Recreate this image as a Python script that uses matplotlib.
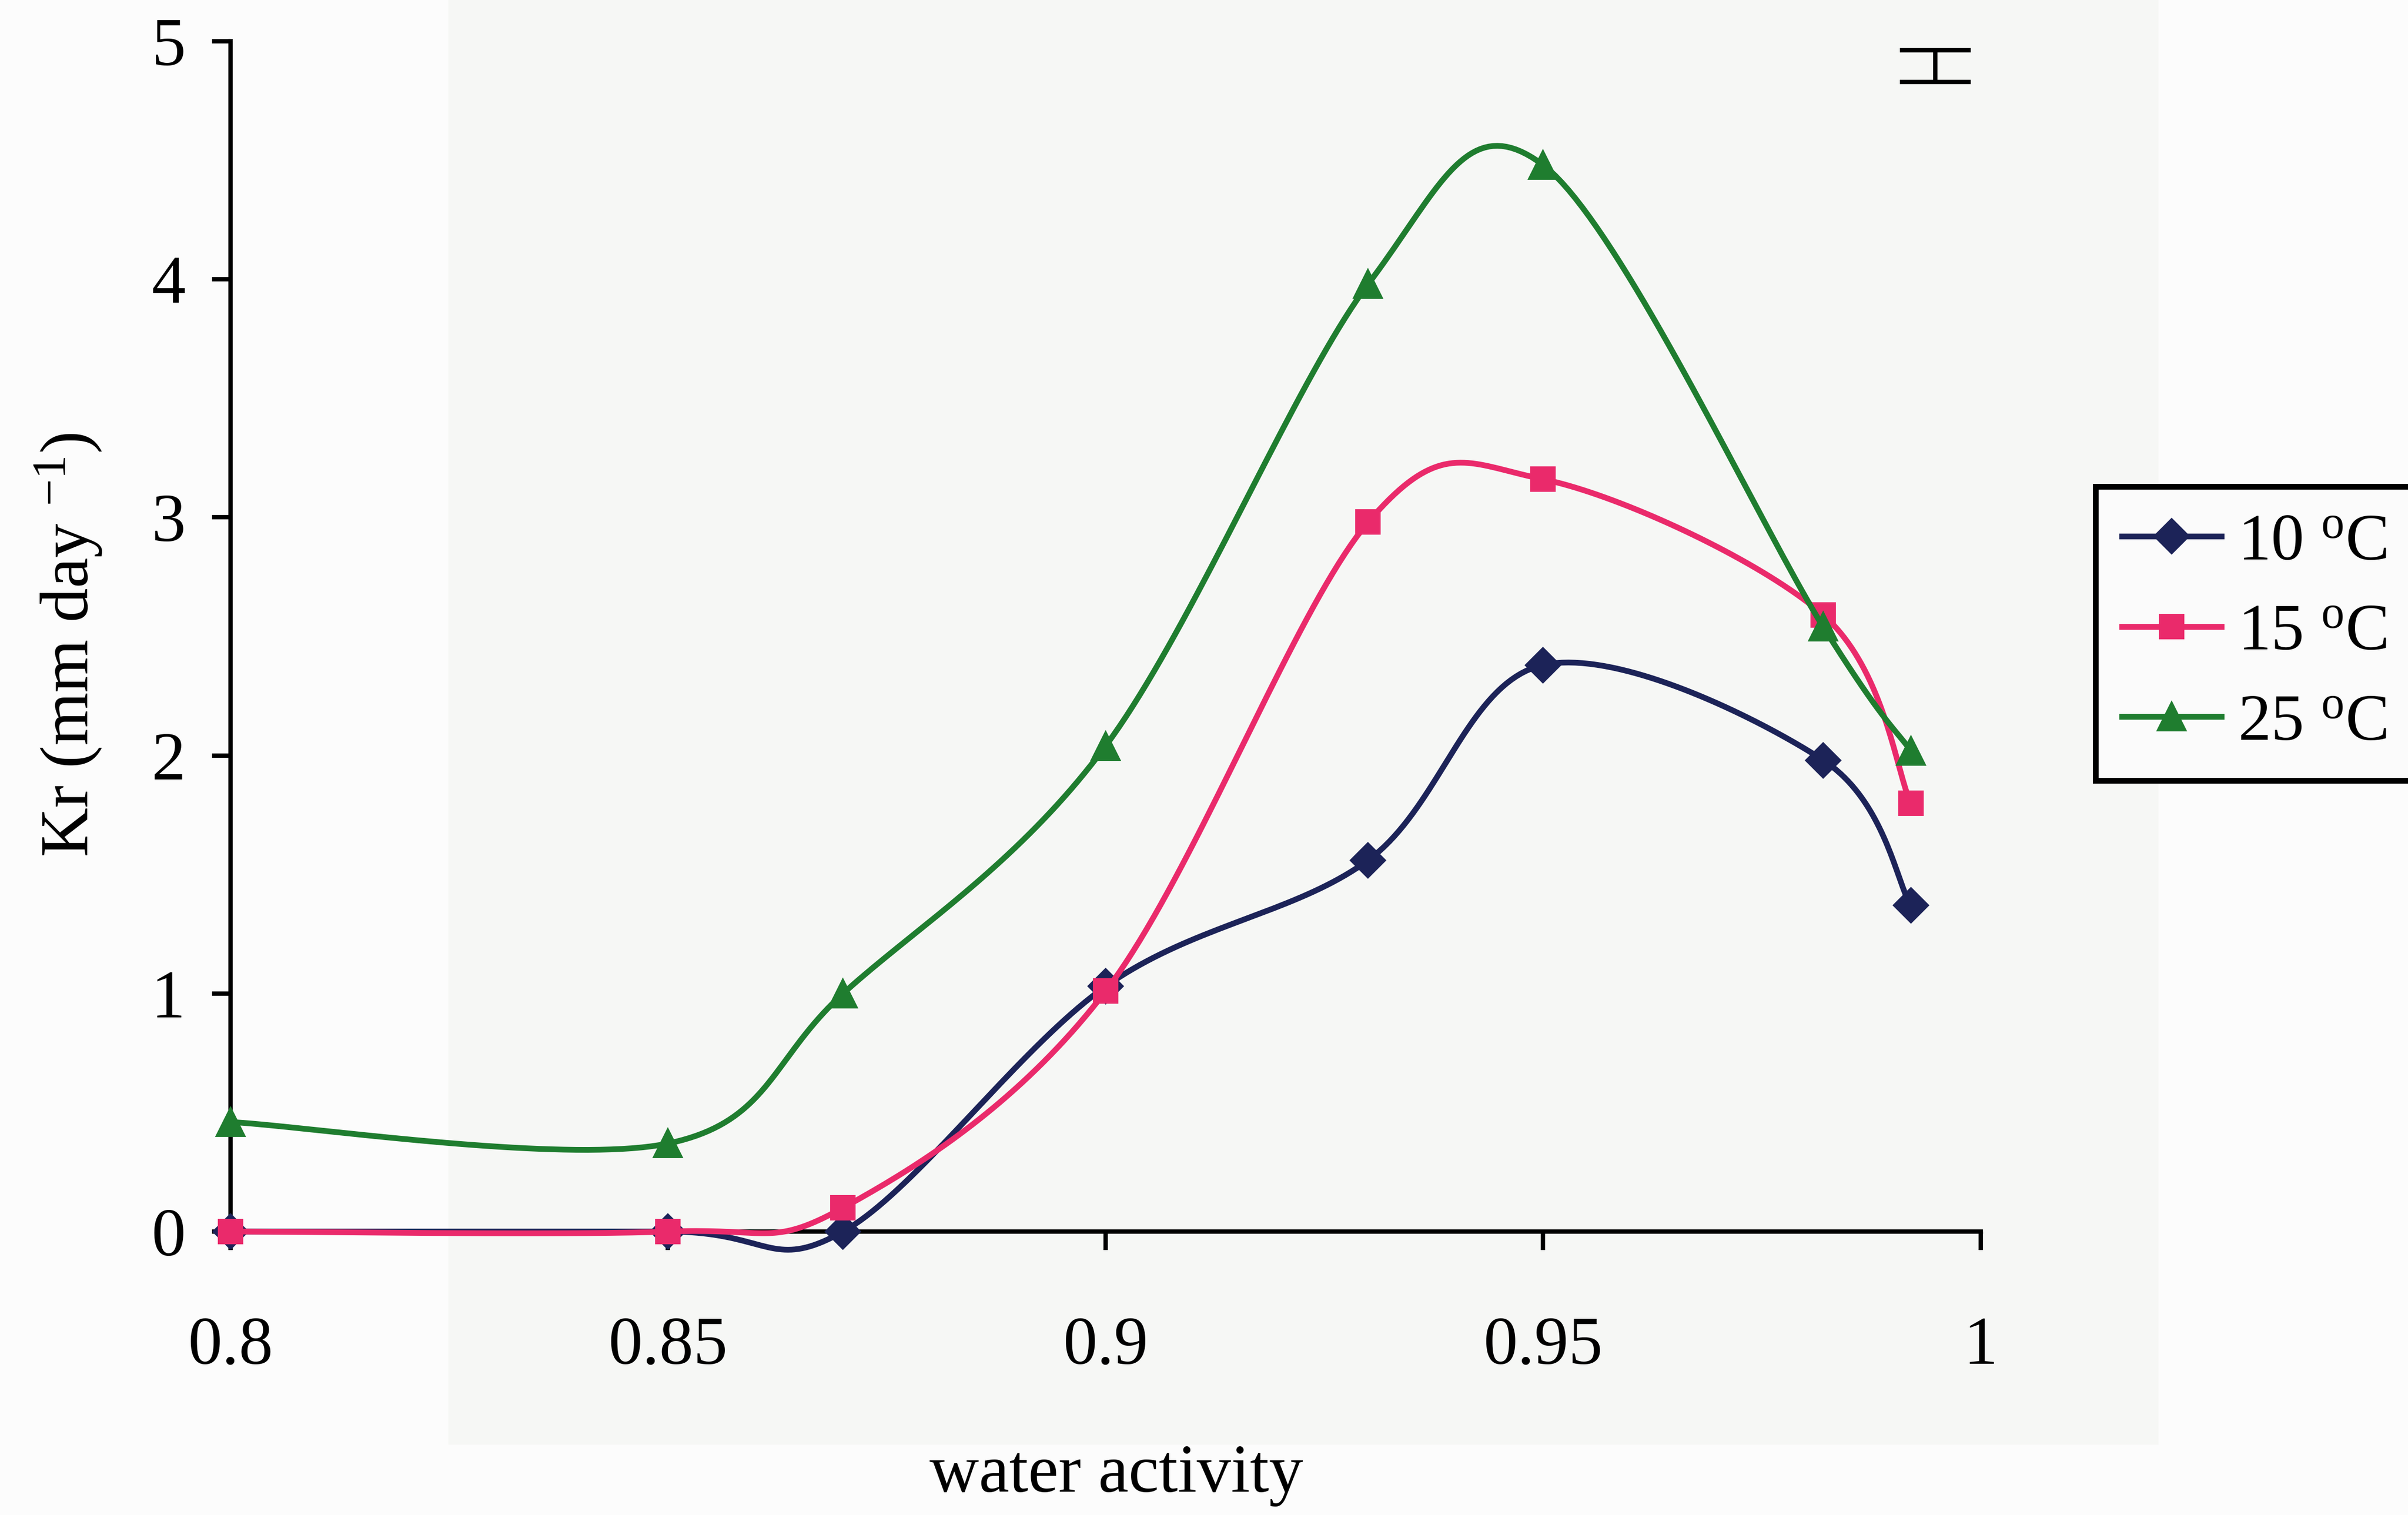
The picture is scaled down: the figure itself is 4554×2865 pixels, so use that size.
import matplotlib.pyplot as plt
import numpy as np
from matplotlib.patches import Rectangle

plt.rcParams['font.family'] = ['Liberation Serif', 'DejaVu Serif']
plt.rcParams['mathtext.fontset'] = 'custom'
plt.rcParams['mathtext.rm'] = 'Liberation Serif'
plt.rcParams['mathtext.it'] = 'Liberation Serif:italic'

# water activity levels and radial growth rates at each temperature
aw = [0.80, 0.85, 0.87, 0.90, 0.93, 0.95, 0.982, 0.992]
kr_10 = [0.0, 0.0, 0.0, 1.03, 1.56, 2.38, 1.98, 1.37]
kr_15 = [0.0, 0.0, 0.10, 1.01, 2.98, 3.16, 2.59, 1.80]
kr_25 = [0.46, 0.37, 1.00, 2.04, 3.98, 4.48, 2.54, 2.02]
labels = [r'10 $^{\rm o}$C', r'15 $^{\rm o}$C', r'25 $^{\rm o}$C']

# representative error bar (top right)
err_x, err_y, err_half = 0.9948, 4.896, 0.067

xlim = (0.8, 1.0)
ylim = (0, 5)

W, H = 4554, 2865
fig = plt.figure(figsize=(W / 300, H / 300), dpi=300)
fig.patch.set_facecolor('#fcfcfc')
# slightly greyer scanned area
fig.patches.append(Rectangle((850 / W, 135 / H), 3230 / W, 2730 / H,
                             transform=fig.transFigure, color='#f6f7f5',
                             zorder=-10))

ax = fig.add_axes([436 / W, 536 / H, 3310 / W, 2251 / H])
ax.set_facecolor('none')
ax.set_xlim(*xlim)
ax.set_ylim(*ylim)

# axis box size in pixels, used to smooth the lines like a spreadsheet chart
px_w, px_h = 3310.0, 2251.0


def smooth(xs, ys, n=40):
    """Catmull-Rom style Bezier smoothing done in screen space."""
    sx = (np.asarray(xs) - xlim[0]) / (xlim[1] - xlim[0]) * px_w
    sy = (np.asarray(ys) - ylim[0]) / (ylim[1] - ylim[0]) * px_h
    pts = np.column_stack([sx, sy])
    out = []
    m = len(pts)
    for i in range(m - 1):
        p0 = pts[max(i - 1, 0)]
        p1 = pts[i]
        p2 = pts[i + 1]
        p3 = pts[min(i + 2, m - 1)]
        c1 = p1 + (p2 - p0) / 6.0
        c2 = p2 - (p3 - p1) / 6.0
        t = np.linspace(0, 1, n)[:, None]
        seg = ((1 - t) ** 3) * p1 + 3 * ((1 - t) ** 2) * t * c1 \
            + 3 * (1 - t) * t ** 2 * c2 + t ** 3 * p2
        out.append(seg if i == 0 else seg[1:])
    out = np.vstack(out)
    xd = out[:, 0] / px_w * (xlim[1] - xlim[0]) + xlim[0]
    yd = out[:, 1] / px_h * (ylim[1] - ylim[0]) + ylim[0]
    return xd, yd


series = [
    (kr_10, '#1c2358', 'D', 11),
    (kr_15, '#ea2a6b', 's', 10.5),
    (kr_25, '#1f7d2f', '^', 12.5),
]

handles = []
for k, (vals, col, mk, ms) in enumerate(series):
    xs, ys = smooth(aw, vals)
    ax.plot(xs, ys, color=col, lw=2.6, zorder=3 + k, clip_on=False,
            solid_capstyle='round')
    ax.plot(aw, vals, linestyle='none', marker=mk, ms=ms, color=col,
            mec=col, zorder=3 + k, clip_on=False)
    h, = ax.plot([], [], color=col, lw=2.6, marker=mk, ms=ms, mec=col,
                 label=labels[k])
    handles.append(h)

eb = ax.errorbar([err_x], [err_y], yerr=[err_half], fmt='none',
                 ecolor='black', elinewidth=2.0, capsize=16, capthick=2.0)
for art in eb.lines[1] + eb.lines[2]:
    art.set_clip_on(False)

for s in ['top', 'right']:
    ax.spines[s].set_visible(False)
for s in ['left', 'bottom']:
    ax.spines[s].set_linewidth(2.0)
    ax.spines[s].set_color('black')

ax.set_xticks([0.8, 0.85, 0.9, 0.95, 1.0])
ax.set_xticklabels(['0.8', '0.85', '0.9', '0.95', '1'])
ax.set_yticks([0, 1, 2, 3, 4, 5])
ax.tick_params(axis='both', direction='out', length=8.5, width=2.0,
               labelsize=31, colors='black')
ax.tick_params(axis='y', pad=12)
ax.tick_params(axis='x', pad=30)

fig.text(130 / W, 1 - 1220 / H, r'Kr (mm day $^{-1}$)', rotation=90,
         ha='center', va='center', fontsize=31)
fig.text(2111 / W, 1 - 2790 / H, 'water activity', ha='center',
         va='center', fontsize=31)

leg = ax.legend(handles=handles, loc='upper left',
                bbox_to_anchor=(3963 / W, 1 - 920 / H),
                bbox_transform=fig.transFigure, borderaxespad=0,
                fontsize=30, frameon=True, fancybox=False,
                edgecolor='black', framealpha=1, handlelength=1.5,
                handletextpad=0.25, labelspacing=0.45, borderpad=0.4)
leg.get_frame().set_linewidth(2.6)
leg.get_frame().set_facecolor('#fbfbfb')

fig.savefig('out.png', dpi=300, facecolor=fig.get_facecolor())
